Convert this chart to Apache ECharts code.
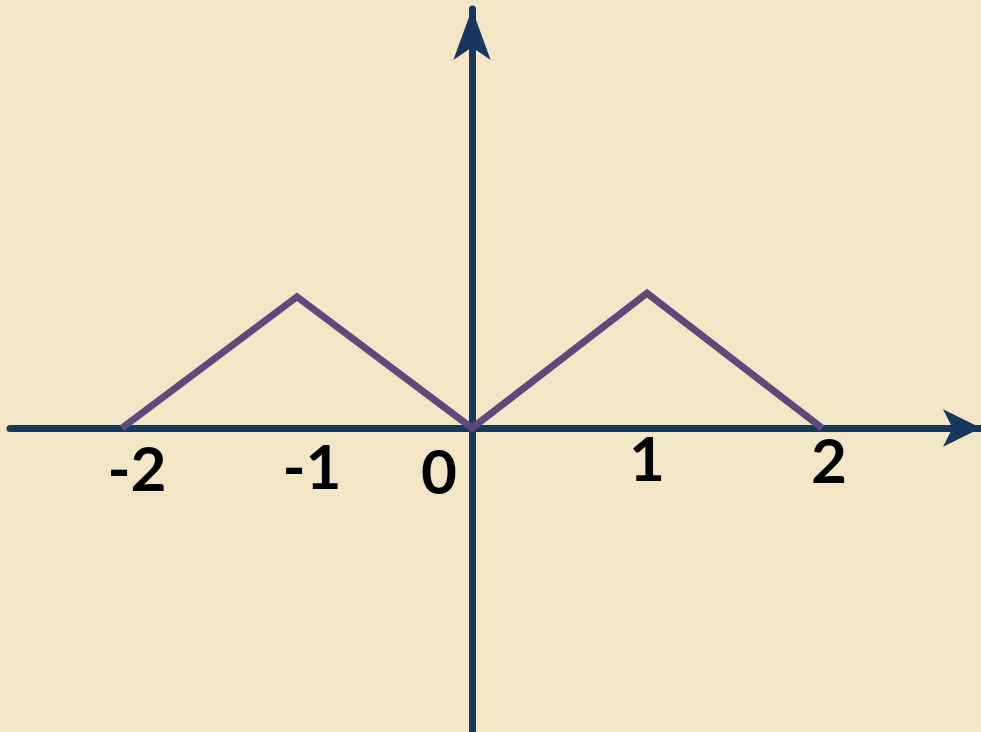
<!DOCTYPE html>
<html>
<head>
<meta charset="utf-8">
<script src="https://cdn.jsdelivr.net/npm/echarts@6/dist/echarts.min.js"></script>
<style>
html,body{margin:0;padding:0;background:#F3E6C7;}
#chart{width:981px;height:732px;}
</style>
</head>
<body>
<div id="chart"></div>
<script>
// Data
const xValues = [-2, -1, 0, 1, 2];
const yValues = [0, 0.75, 0, 0.77, 0];
const tickValues = [-2, -1, 0, 1, 2];
const tickLabels = ['-2', '-1', '0', '1', '2'];

// Label nudges (style only): [dx, dy] in px
const labelNudges = [[15, 10], [15, 8], [-33, 13], [0, 0], [7, 2]];

const points = xValues.map((x, i) => [x, yValues[i]]);

const rich = {};
labelNudges.forEach((n, i) => {
  const dx = n[0], dy = n[1];
  rich['l' + i] = {
    fontFamily: 'Lato',
    fontWeight: 'bold',
    fontSize: 62,
    color: '#000000',
    padding: [dy, dx < 0 ? -2 * dx : 0, 0, dx > 0 ? 2 * dx : 0]
  };
});

const axisColor = '#17375E';
const yMin = -1.7371, yMax = 2.3943;
const gridTop = 9, gridBottom = 0, H = 732;
// pixel position of y=0 measured from grid bottom
const zeroFromBottom = (0 - yMin) / (yMax - yMin) * (H - gridTop - gridBottom);

const chart = echarts.init(document.getElementById('chart'), null, {renderer: 'canvas'});
chart.setOption({
  backgroundColor: '#F3E6C7',
  animation: false,
  grid: {left: 10, right: 0, top: gridTop, bottom: gridBottom, containLabel: false, outerBoundsMode: 'none'},
  xAxis: {
    type: 'value',
    min: -2.64,
    max: 2.9086,
    position: 'bottom',
    offset: -zeroFromBottom,
    splitLine: {show: false},
    axisTick: {show: false},
    axisLine: {
      show: true,
      onZero: false,
      symbol: ['none', 'arrow'],
      symbolSize: [28, 38],
      lineStyle: {color: axisColor, width: 7}
    },
    axisLabel: {
      show: true,
      customValues: tickValues,
      margin: 2,
      formatter: function (value) {
        const i = tickValues.indexOf(value);
        if (i < 0) return '';
        return '{l' + i + '|' + tickLabels[i] + '}';
      },
      rich: rich
    }
  },
  yAxis: {
    type: 'value',
    min: yMin,
    max: yMax,
    splitLine: {show: false},
    axisTick: {show: false},
    axisLabel: {show: false},
    axisLine: {
      show: true,
      onZero: true,
      symbol: ['none', 'arrow'],
      symbolSize: [28, 51],
      lineStyle: {color: axisColor, width: 7}
    }
  },
  series: [{
    type: 'line',
    data: points,
    showSymbol: false,
    symbol: 'none',
    lineStyle: {color: '#5F497A', width: 7, cap: 'butt', join: 'miter'},
    z: 5
  }]
});
</script>
</body>
</html>
